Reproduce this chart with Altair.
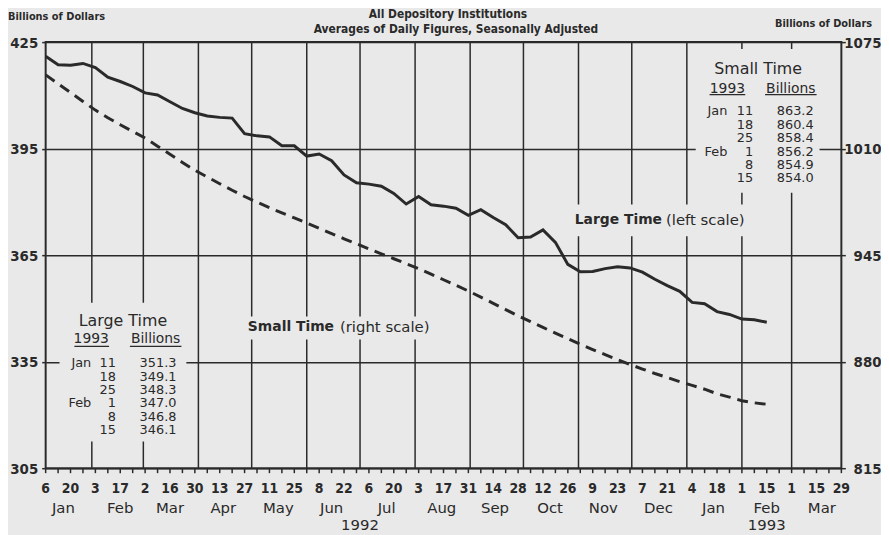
from datetime import date, timedelta

import altair as alt
import pandas as pd

# ---------------- data ----------------
START = date(1992, 1, 6)
END = date(1993, 3, 29)

# weekly, Jan 6 1992 ... Feb 15 1993 (billions of dollars)
large_time = [421.0, 418.6, 418.5, 419.0, 417.8, 415.1, 413.9, 412.5, 410.7, 410.1,
              408.2, 406.3, 405.1, 404.2, 403.8, 403.6, 399.2, 398.6, 398.3, 395.8,
              395.8, 392.9, 393.5, 391.6, 387.6, 385.4, 385.0, 384.4, 382.4, 379.4,
              381.5, 379.2, 378.8, 378.2, 376.2, 377.8, 375.6, 373.6, 369.9, 370.1,
              372.1, 368.6, 362.4, 360.3, 360.4, 361.2, 361.7, 361.4, 360.2, 358.2,
              356.4, 354.8, 351.7, 351.3, 349.1, 348.3, 347.0, 346.8, 346.1]

small_time = [1055.0, 1049.6, 1044.2, 1038.8, 1033.5, 1028.8, 1024.6, 1020.5, 1016.5, 1011.5,
              1006.6, 1001.6, 996.8, 992.7, 988.6, 984.6, 980.8, 977.3, 974.0, 970.8,
              967.7, 964.6, 961.4, 958.2, 955.0, 951.9, 948.8, 945.8, 942.8, 939.8,
              936.8, 933.4, 930.0, 926.6, 923.1, 919.4, 915.6, 911.8, 908.0, 904.4,
              900.9, 897.4, 894.0, 890.6, 887.4, 884.3, 881.2, 878.3, 875.5, 872.8,
              870.3, 867.8, 865.5, 863.2, 860.4, 858.4, 856.2, 854.9, 854.0]

tick_labels = ["6", "20", "3", "17", "2", "16", "30", "13", "27", "11", "25", "8", "22",
               "6", "20", "3", "17", "31", "14", "28", "12", "26", "9", "23", "7", "21",
               "4", "18", "1", "15", "1", "15", "29"]

month_names = ["Jan", "Feb", "Mar", "Apr", "May", "Jun", "Jul", "Aug", "Sep", "Oct",
               "Nov", "Dec", "Jan", "Feb", "Mar"]
month_label_dates = [date(1992, 1, 16), date(1992, 2, 17), date(1992, 3, 16), date(1992, 4, 15),
                     date(1992, 5, 16), date(1992, 6, 15), date(1992, 7, 16), date(1992, 8, 16),
                     date(1992, 9, 15), date(1992, 10, 16), date(1992, 11, 15), date(1992, 12, 16),
                     date(1993, 1, 16), date(1993, 2, 15), date(1993, 3, 18)]
month_start_dates = [date(1992, m, 1) for m in range(2, 13)] + [date(1993, m, 1) for m in range(1, 4)]

year_labels = ["1992", "1993"]
year_label_dates = [date(1992, 7, 1), date(1993, 2, 15)]

left_ticks = [305, 335, 365, 395, 425]
right_ticks = [815, 880, 945, 1010, 1075]

table_months = ["Jan", "", "", "Feb", "", ""]
table_days = ["11", "18", "25", "1", "8", "15"]
large_table = [351.3, 349.1, 348.3, 347.0, 346.8, 346.1]
small_table = [863.2, 860.4, 858.4, 856.2, 854.9, 854.0]

# ---------------- style ----------------
INK = "#2a2a2a"
BG = "#e9e9e9"
NARROW = "DejaVu Sans Condensed, sans-serif"
TEXT = "DejaVu Sans, sans-serif"
CTEXT = "DejaVu Sans Condensed, DejaVu Sans, sans-serif"
W, H = 803, 430
ROW = 13.5
ROW_FS = 13


def day(d):
    return (d - START).days


week_dates = [START + timedelta(weeks=i) for i in range(len(large_time))]
df = pd.DataFrame({"d": [day(x) for x in week_dates], "large": large_time, "small": small_time})

n_weeks = day(END) // 7
xscale = alt.Scale(domain=[0, day(END)], nice=False, zero=False)
one = pd.DataFrame({"k": [0]})

# vertical month grid lines
grid_v = alt.Chart(pd.DataFrame({"d": [day(x) for x in month_start_dates]})).mark_rule(
    color=INK, strokeWidth=1.5
).encode(x=alt.X("d:Q", scale=xscale, axis=None), y=alt.value(0), y2=alt.value(H))

# weekly ticks under the plot
week_ticks = alt.Chart(pd.DataFrame({"d": [7 * w for w in range(n_weeks + 1)]})).mark_rule(
    color=INK, strokeWidth=1.5
).encode(x=alt.X("d:Q", scale=xscale, axis=None), y=alt.value(H), y2=alt.value(H + 5))

day_txt = alt.Chart(pd.DataFrame({"d": [14 * i for i in range(len(tick_labels))], "t": tick_labels})).mark_text(
    font=NARROW, fontSize=14, fontWeight="bold", color=INK, baseline="middle"
).encode(x=alt.X("d:Q", scale=xscale, axis=None), y=alt.value(H + 21), text="t:N")

large_line = alt.Chart(df).mark_line(color=INK, strokeWidth=3).encode(
    x=alt.X("d:Q", scale=xscale, axis=None),
    y=alt.Y("large:Q", scale=alt.Scale(domain=[305, 425], nice=False, zero=False), title="",
            axis=alt.Axis(values=left_ticks, orient="left", grid=True, gridColor=INK,
                          gridWidth=1.5, gridOpacity=1, domain=False, tickSize=4, format="d",
                          tickColor=INK, tickWidth=1.5, labelFont=NARROW, labelFontSize=15,
                          labelFontWeight="bold", labelColor=INK, labelPadding=4)),
)

small_line = alt.Chart(df).mark_line(color=INK, strokeWidth=3, strokeDash=[11, 7]).encode(
    x=alt.X("d:Q", scale=xscale, axis=None),
    y=alt.Y("small:Q", scale=alt.Scale(domain=[815, 1075], nice=False, zero=False), title="",
            axis=alt.Axis(values=right_ticks, orient="right", grid=False, domain=False,
                          tickSize=4, tickColor=INK, tickWidth=1.5, labelFont=NARROW, format="d",
                          labelFontSize=15, labelFontWeight="bold", labelColor=INK,
                          labelAlign="right", labelPadding=36)),
)


def box(x1, x2, y1, y2):
    return alt.Chart(one).mark_rect(fill=BG).encode(
        x=alt.value(x1), x2=alt.value(x2), y=alt.value(y1), y2=alt.value(y2))


def txt(s, x, y, size=14, weight="normal", align="center", font=TEXT):
    return alt.Chart(one).mark_text(
        text=s, font=font, fontSize=size, fontWeight=weight, align=align,
        baseline="middle", color=INK
    ).encode(x=alt.value(x), y=alt.value(y))


def uline(x1, x2, y):
    return alt.Chart(one).mark_rule(color=INK, strokeWidth=1.3).encode(
        x=alt.value(x1), x2=alt.value(x2), y=alt.value(y))


def table(values, x_month, x_day, x_val, y0):
    out = []
    for i, (m, d, v) in enumerate(zip(table_months, table_days, values)):
        y = y0 + i * ROW
        if m:
            out.append(txt(m, x_month, y, size=ROW_FS, align="right"))
        out.append(txt(d, x_day, y, size=ROW_FS, align="right"))
        out.append(txt(f"{v:.1f}", x_val, y, size=ROW_FS, align="right"))
    return out


boxes = [
    box(14, 142, 263, 403),      # large time table
    box(656, 781, 7, 152),       # small time table
    box(533, 715, 164, 196),     # large time label
    box(205, 395, 277, 300),     # small time label
]

month_txt = alt.Chart(pd.DataFrame({"d": [day(x) for x in month_label_dates], "t": month_names})).mark_text(
    font=TEXT, fontSize=15, color=INK, baseline="middle"
).encode(x=alt.X("d:Q", scale=xscale, axis=None), y=alt.value(H + 40), text="t:N")

year_txt = alt.Chart(pd.DataFrame({"d": [day(x) for x in year_label_dates], "t": year_labels})).mark_text(
    font=TEXT, fontSize=15, color=INK, baseline="middle"
).encode(x=alt.X("d:Q", scale=xscale, axis=None), y=alt.value(H + 57), text="t:N")

texts = [
    txt("Billions of Dollars", -38, -25, size=11, weight="bold", align="left", font=CTEXT),
    txt("Billions of Dollars", 834, -18, size=11, weight="bold", align="right", font=CTEXT),
    txt("All Depository Institutions", 406, -28, size=12, weight="bold", font=CTEXT),
    txt("Averages of Daily Figures, Seasonally Adjusted", 414, -13, size=12, weight="bold", font=CTEXT),
    # series labels
    txt("Large Time", 622, 180, size=14, weight="bold", align="right"),
    txt("(left scale)", 626, 180, size=15, align="left"),
    txt("Small Time", 291, 288, size=14, weight="bold", align="right"),
    txt("(right scale)", 297, 288, size=15, align="left"),
    # small time table
    txt("Small Time", 719, 27, size=16),
    txt("1993", 688, 47, size=14),
    txt("Billions", 752, 47, size=14),
    *table(small_table, 688, 714, 775, 70),
    # large time table
    txt("Large Time", 78, 282, size=16),
    txt("1993", 46, 300, size=14),
    txt("Billions", 111, 300, size=14),
    *table(large_table, 46, 71, 132, 324),
]

ulines = [
    uline(670, 706, 53), uline(726, 778, 53),
    uline(29, 64, 307), uline(85, 137, 307),
]

chart = alt.layer(
    grid_v, large_line, small_line, week_ticks, day_txt, *boxes, month_txt, year_txt,
    *texts, *ulines
).resolve_scale(y="independent").properties(
    width=W, height=H, background=BG,
    autosize=alt.AutoSizeParams(type="none"),
    padding={"left": 38, "top": 32, "right": 40, "bottom": 65},
).configure_view(stroke=INK, strokeWidth=2)

chart.save("out.html", embed_options={"renderer": "svg", "actions": False})
